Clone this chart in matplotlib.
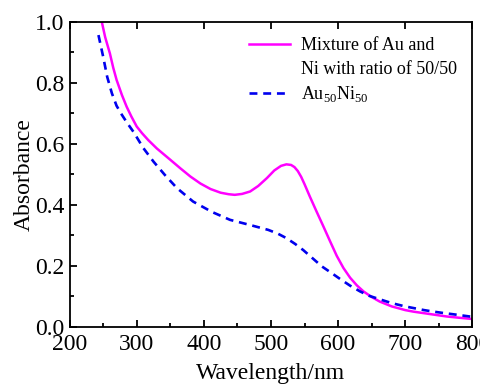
import matplotlib
matplotlib.use("Agg")
import matplotlib.pyplot as plt
import numpy as np

plt.rcParams['font.family'] = 'Liberation Serif'
plt.rcParams['mathtext.fontset'] = 'custom'
plt.rcParams['mathtext.rm'] = 'Liberation Serif'

# mixture of Au and Ni (50/50)
wl_mix = [248, 253, 260, 265, 270, 278, 285, 292, 300, 308, 317, 330, 350, 365, 380, 395, 410, 425, 437, 446, 457, 469, 481, 494, 505, 515, 523, 530, 535, 540, 545, 550, 558, 568, 578, 588, 598, 608, 618, 628, 638, 650, 662, 680, 700, 712, 740, 762, 780, 799]
abs_mix = [1.0, 0.95, 0.897, 0.85, 0.81, 0.76, 0.722, 0.69, 0.657, 0.635, 0.613, 0.585, 0.548, 0.52, 0.493, 0.47, 0.452, 0.44, 0.435, 0.433, 0.436, 0.444, 0.462, 0.488, 0.513, 0.528, 0.533, 0.531, 0.524, 0.511, 0.492, 0.468, 0.427, 0.378, 0.33, 0.281, 0.233, 0.193, 0.161, 0.136, 0.116, 0.098, 0.083, 0.067, 0.055, 0.05, 0.041, 0.034, 0.03, 0.026]

# Au50Ni50 alloy
wl_alloy = [243, 250, 256, 263, 270, 278, 286, 295, 310, 325, 342, 360, 384, 412, 439, 469, 496, 510, 523, 536, 548, 562, 576, 590, 603, 618, 633, 646, 660, 674, 687, 700, 714, 728, 742, 755, 769, 783, 796, 800]
abs_alloy = [0.957, 0.886, 0.82, 0.766, 0.725, 0.695, 0.668, 0.64, 0.586, 0.542, 0.498, 0.455, 0.411, 0.377, 0.351, 0.334, 0.318, 0.306, 0.291, 0.272, 0.252, 0.225, 0.198, 0.177, 0.157, 0.135, 0.116, 0.102, 0.092, 0.082, 0.074, 0.067, 0.061, 0.055, 0.05, 0.046, 0.042, 0.038, 0.034, 0.033]

fig = plt.figure(figsize=(4.8, 3.85), dpi=100)
ax = fig.add_axes([0.145, 0.151, 0.839, 0.792])

ax.plot(wl_mix, abs_mix, color='#ff00ff', lw=1.8, label='Mixture of Au and')
ax.plot([], [], color='none', label='Ni with ratio of 50/50')
ax.plot(wl_alloy, abs_alloy, color='#0000ee', lw=1.9, ls=(0, (3, 2.2)), label=r'Au$_{\mathrm{50}}$Ni$_{\mathrm{50}}$')

ax.set_xlim(200, 800)
ax.set_ylim(0, 1.0)
ax.set_xticks(np.arange(200, 801, 100))
ax.set_xticks(np.arange(250, 800, 100), minor=True)
ax.set_yticks(np.arange(0, 1.01, 0.2))
ax.set_yticks(np.arange(0.1, 1.0, 0.2), minor=True)
ax.yaxis.set_major_formatter(matplotlib.ticker.FormatStrFormatter('%.1f'))
ax.tick_params(which='both', direction='in', labelsize=17, width=1.3)
ax.tick_params(which='major', length=5)
ax.tick_params(which='minor', length=3)
ax.tick_params(axis='x', which='major', top=True, pad=5)
ax.tick_params(axis='y', pad=4)
for s in ax.spines.values():
    s.set_linewidth(1.3)

ax.set_xlabel('Wavelength/nm', fontsize=17, labelpad=6)
ax.set_ylabel('Absorbance', fontsize=17, labelpad=0)
ax.legend(loc='upper right', frameon=False, fontsize=13, handlelength=2.3,
          labelspacing=0.35, borderaxespad=0.45, handletextpad=0.6)

fig.savefig('out.png', dpi=100)
